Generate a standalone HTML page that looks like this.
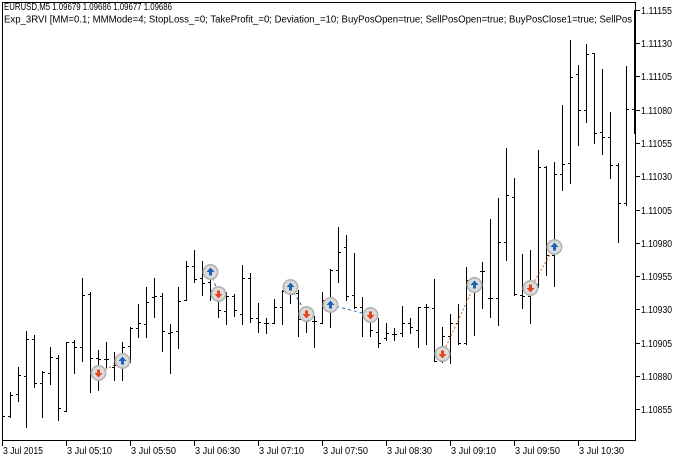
<!DOCTYPE html>
<html>
<head>
<meta charset="utf-8">
<style>
html,body{margin:0;padding:0;background:#fff;}
svg{display:block;}
text{font-family:"Liberation Sans",sans-serif;font-size:10px;fill:#000;}
</style>
</head>
<body>
<svg width="687" height="461" viewBox="0 0 687 461" xmlns="http://www.w3.org/2000/svg">
<rect x="0" y="0" width="687" height="461" fill="#fff"/>
<defs>
<clipPath id="plot"><rect x="3" y="3" width="632" height="437"/></clipPath>
</defs>

<!-- bars -->
<path fill="none" stroke="#000" stroke-width="1" shape-rendering="crispEdges" clip-path="url(#plot)" d="
M2.5,410V421 M3,416.5H5
M10.5,392V418 M8,416.5H10 M11,395.5H13
M18.5,367V402 M16,394.5H18 M19,375.5H21
M26.5,331V428 M24,376.5H26 M27,339.5H29
M34.5,335V388 M32,339.5H34 M35,383.5H37
M42.5,371V418 M40,383.5H42 M43,372.5H45
M50.5,347V385 M48,373.5H50 M51,357.5H53
M58.5,355V421 M56,358.5H58 M59,408.5H61
M66.5,342V412 M64,411.5H66 M67,342.5H69
M74.5,340V374 M72,342.5H74 M75,347.5H77
M82.5,278V362 M80,347.5H82 M83,295.5H85
M90.5,292V393 M88,294.5H90 M91,358.5H93
M98.5,350V391 M96,358.5H98 M99,359.5H101
M106.5,342V368 M104,359.5H106 M107,359.5H109
M114.5,352V381 M112,367.5H114 M115,365.5H117
M122.5,342V381 M120,365.5H122 M123,347.5H125
M130.5,327V363 M128,346.5H130 M131,328.5H133
M138.5,304V338 M136,328.5H138 M139,323.5H141
M146.5,287V338 M144,324.5H146 M147,302.5H149
M154.5,278V318 M152,297.5H154 M155,296.5H157
M162.5,293V352 M160,296.5H162 M163,331.5H165
M170.5,324V374 M168,333.5H170 M171,332.5H173
M178.5,287V349 M176,331.5H178 M179,301.5H181
M186.5,261V301 M184,300.5H186 M187,266.5H189
M194.5,250V283 M192,266.5H194 M195,279.5H197
M202.5,261V296 M200,278.5H202 M203,283.5H205
M210.5,264V301 M208,282.5H210 M211,290.5H213
M218.5,287V318 M216,290.5H218 M219,310.5H221
M226.5,292V325 M224,311.5H226 M227,296.5H229
M234.5,294V317 M232,296.5H234 M235,310.5H237
M242.5,265V325 M240,314.5H242 M243,278.5H245
M250.5,273V323 M248,278.5H250 M251,318.5H253
M258.5,303V333 M256,318.5H258 M259,322.5H261
M266.5,318V334 M264,323.5H266 M267,323.5H269
M274.5,299V324 M272,323.5H274 M275,307.5H277
M282.5,290V325 M280,307.5H282 M283,291.5H285
M290.5,283V304 M288,293.5H290 M291,294.5H293
M298.5,290V337 M296,293.5H298 M299,319.5H301
M306.5,310V333 M304,319.5H306 M307,321.5H309
M314.5,316V348 M312,321.5H314 M315,321.5H317
M322.5,292V324 M320,323.5H322 M323,300.5H325
M330.5,269V328 M328,300.5H330 M331,270.5H333
M338.5,227V283 M336,270.5H338 M339,252.5H341
M346.5,235V301 M344,247.5H346 M347,296.5H349
M354.5,253V309 M352,295.5H354 M355,307.5H357
M362.5,297V337 M360,307.5H362 M363,315.5H365
M370.5,313V337 M368,320.5H370 M371,330.5H373
M378.5,318V348 M376,332.5H378 M379,343.5H381
M386.5,323V341 M384,338.5H386 M387,333.5H389
M394.5,328V341 M392,334.5H394 M395,334.5H397
M402.5,306V337 M400,333.5H402 M403,323.5H405
M410.5,318V334 M408,323.5H410 M411,327.5H413
M418.5,307V348 M416,330.5H418 M419,307.5H421
M426.5,304V345 M424,307.5H426 M427,307.5H429
M434.5,279V362 M432,308.5H434 M435,361.5H437
M442.5,327V363 M440,361.5H442 M443,336.5H445
M450.5,314V364 M448,336.5H450 M451,323.5H453
M458.5,304V345 M456,323.5H458 M459,343.5H461
M466.5,267V345 M464,343.5H466 M467,280.5H469
M474.5,277V336 M472,280.5H474 M475,278.5H477
M482.5,262V309 M480,271.5H482 M483,271.5H485
M490.5,219V318 M488,298.5H490 M491,298.5H493
M498.5,198V326 M496,298.5H498 M499,242.5H501
M506.5,148V261 M504,242.5H506 M507,195.5H509
M514.5,178V296 M512,197.5H514 M515,294.5H517
M522.5,254V309 M520,295.5H522 M523,296.5H525
M530.5,250V324 M528,296.5H530 M531,285.5H533
M538.5,150V288 M536,284.5H538 M539,167.5H541
M546.5,166V276 M544,167.5H546 M547,255.5H549
M554.5,162V287 M552,255.5H554 M555,174.5H557
M562.5,105V191 M560,174.5H562 M563,164.5H565
M570.5,40V184 M568,163.5H570 M571,77.5H573
M578.5,65V146 M576,74.5H578 M579,110.5H581
M586.5,44V123 M584,110.5H586 M587,54.5H589
M594.5,53V144 M592,53.5H594 M595,133.5H597
M602.5,69V155 M600,132.5H602 M603,137.5H605
M610.5,112V179 M608,137.5H610 M611,165.5H613
M618.5,163V243 M616,165.5H618 M619,203.5H621
M626.5,66V206 M624,203.5H626 M627,109.5H629
M634.5,10V134 M632,109.5H634
"/>

<!-- trade lines -->
<g fill="none" stroke-width="1">
<line x1="98.5" y1="373" x2="122.5" y2="361" stroke="#d2642d" stroke-dasharray="2,2"/>
<line x1="210.5" y1="272" x2="218.5" y2="294" stroke="#1e6eb4" stroke-dasharray="3,3"/>
<line x1="290.5" y1="287" x2="306.5" y2="314" stroke="#1e6eb4" stroke-dasharray="3,3"/>
<line x1="330.5" y1="305" x2="370.5" y2="315" stroke="#1e6eb4" stroke-dasharray="3,3"/>
<line x1="442.5" y1="354" x2="474.5" y2="285" stroke="#d2642d" stroke-dasharray="2,2"/>
<line x1="530.5" y1="288" x2="554.5" y2="247" stroke="#d2642d" stroke-dasharray="2,2"/>
</g>

<!-- markers -->
<g stroke="#b2b2b2" stroke-width="1.6" fill="#dcdcdc">
<circle cx="98.5" cy="373" r="7.2"/>
<circle cx="122.5" cy="361" r="7.2"/>
<circle cx="210.5" cy="272" r="7.2"/>
<circle cx="218.5" cy="294" r="7.2"/>
<circle cx="290.5" cy="287" r="7.2"/>
<circle cx="306.5" cy="314" r="7.2"/>
<circle cx="330.5" cy="305" r="7.2"/>
<circle cx="370.5" cy="315" r="7.2"/>
<circle cx="442.5" cy="354" r="7.2"/>
<circle cx="474.5" cy="285" r="7.2"/>
<circle cx="530.5" cy="288" r="7.2"/>
<circle cx="554.5" cy="247" r="7.2"/>
</g>
<!-- buy arrows (up, blue) -->
<g fill="#1e64b4">
<path d="M118.5,361 L122.5,356.5 L126.5,361 L124,361 L124,364.5 L121,364.5 L121,361 Z"/>
<path d="M206.5,272 L210.5,267.5 L214.5,272 L212,272 L212,275.5 L209,275.5 L209,272 Z"/>
<path d="M286.5,287 L290.5,282.5 L294.5,287 L292,287 L292,290.5 L289,290.5 L289,287 Z"/>
<path d="M326.5,305 L330.5,300.5 L334.5,305 L332,305 L332,308.5 L329,308.5 L329,305 Z"/>
<path d="M470.5,285 L474.5,280.5 L478.5,285 L476,285 L476,288.5 L473,288.5 L473,285 Z"/>
<path d="M550.5,247 L554.5,242.5 L558.5,247 L556,247 L556,250.5 L553,250.5 L553,247 Z"/>
</g>
<!-- sell arrows (down, red) -->
<g fill="#e5461e">
<path d="M94.5,373 L98.5,377.5 L102.5,373 L100,373 L100,369.5 L97,369.5 L97,373 Z"/>
<path d="M214.5,294 L218.5,298.5 L222.5,294 L220,294 L220,290.5 L217,290.5 L217,294 Z"/>
<path d="M302.5,314 L306.5,318.5 L310.5,314 L308,314 L308,310.5 L305,310.5 L305,314 Z"/>
<path d="M366.5,315 L370.5,319.5 L374.5,315 L372,315 L372,311.5 L369,311.5 L369,315 Z"/>
<path d="M438.5,354 L442.5,358.5 L446.5,354 L444,354 L444,350.5 L441,350.5 L441,354 Z"/>
<path d="M526.5,288 L530.5,292.5 L534.5,288 L532,288 L532,284.5 L529,284.5 L529,288 Z"/>
</g>

<!-- header text -->
<g clip-path="url(#plot)">
<text x="4" y="10" textLength="168" lengthAdjust="spacingAndGlyphs">EURUSD,M5  1.09679 1.09686 1.09677 1.09686</text>
<text x="4" y="22.5" textLength="628" lengthAdjust="spacingAndGlyphs">Exp_3RVI [MM=0.1; MMMode=4; StopLoss_=0; TakeProfit_=0; Deviation_=10; BuyPosOpen=true; SellPosOpen=true; BuyPosClose1=true; SellPos</text>
</g>

<!-- frame -->
<rect x="2.5" y="2.5" width="633" height="438" fill="none" stroke="#000" stroke-width="1" shape-rendering="crispEdges"/>

<!-- price axis -->
<path stroke="#000" stroke-width="1" shape-rendering="crispEdges" d="
M636,10.5H640 M636,43.5H640 M636,76.5H640 M636,110.5H640 M636,143.5H640 M636,176.5H640 M636,210.5H640
M636,243.5H640 M636,276.5H640 M636,309.5H640 M636,343.5H640 M636,376.5H640 M636,409.5H640"/>
<g>
<text x="641" y="14" textLength="31" lengthAdjust="spacingAndGlyphs">1.11155</text>
<text x="641" y="47" textLength="31" lengthAdjust="spacingAndGlyphs">1.11130</text>
<text x="641" y="80" textLength="31" lengthAdjust="spacingAndGlyphs">1.11105</text>
<text x="641" y="114" textLength="31" lengthAdjust="spacingAndGlyphs">1.11080</text>
<text x="641" y="147" textLength="31" lengthAdjust="spacingAndGlyphs">1.11055</text>
<text x="641" y="180" textLength="31" lengthAdjust="spacingAndGlyphs">1.11030</text>
<text x="641" y="214" textLength="31" lengthAdjust="spacingAndGlyphs">1.11005</text>
<text x="641" y="247" textLength="31" lengthAdjust="spacingAndGlyphs">1.10980</text>
<text x="641" y="280" textLength="31" lengthAdjust="spacingAndGlyphs">1.10955</text>
<text x="641" y="313" textLength="31" lengthAdjust="spacingAndGlyphs">1.10930</text>
<text x="641" y="347" textLength="31" lengthAdjust="spacingAndGlyphs">1.10905</text>
<text x="641" y="380" textLength="31" lengthAdjust="spacingAndGlyphs">1.10880</text>
<text x="641" y="413" textLength="31" lengthAdjust="spacingAndGlyphs">1.10855</text>
</g>

<!-- time axis -->
<path stroke="#000" stroke-width="1" shape-rendering="crispEdges" d="
M2.5,441V446 M66.5,441V446 M130.5,441V446 M194.5,441V446 M258.5,441V446
M322.5,441V446 M386.5,441V446 M450.5,441V446 M514.5,441V446 M578.5,441V446"/>
<g>
<text x="3" y="454" textLength="40" lengthAdjust="spacingAndGlyphs">3 Jul 2015</text>
<text x="67" y="454" textLength="45" lengthAdjust="spacingAndGlyphs">3 Jul 05:10</text>
<text x="131" y="454" textLength="45" lengthAdjust="spacingAndGlyphs">3 Jul 05:50</text>
<text x="195" y="454" textLength="45" lengthAdjust="spacingAndGlyphs">3 Jul 06:30</text>
<text x="259" y="454" textLength="45" lengthAdjust="spacingAndGlyphs">3 Jul 07:10</text>
<text x="323" y="454" textLength="45" lengthAdjust="spacingAndGlyphs">3 Jul 07:50</text>
<text x="387" y="454" textLength="45" lengthAdjust="spacingAndGlyphs">3 Jul 08:30</text>
<text x="451" y="454" textLength="45" lengthAdjust="spacingAndGlyphs">3 Jul 09:10</text>
<text x="515" y="454" textLength="45" lengthAdjust="spacingAndGlyphs">3 Jul 09:50</text>
<text x="579" y="454" textLength="45" lengthAdjust="spacingAndGlyphs">3 Jul 10:30</text>
</g>
</svg>
</body>
</html>
